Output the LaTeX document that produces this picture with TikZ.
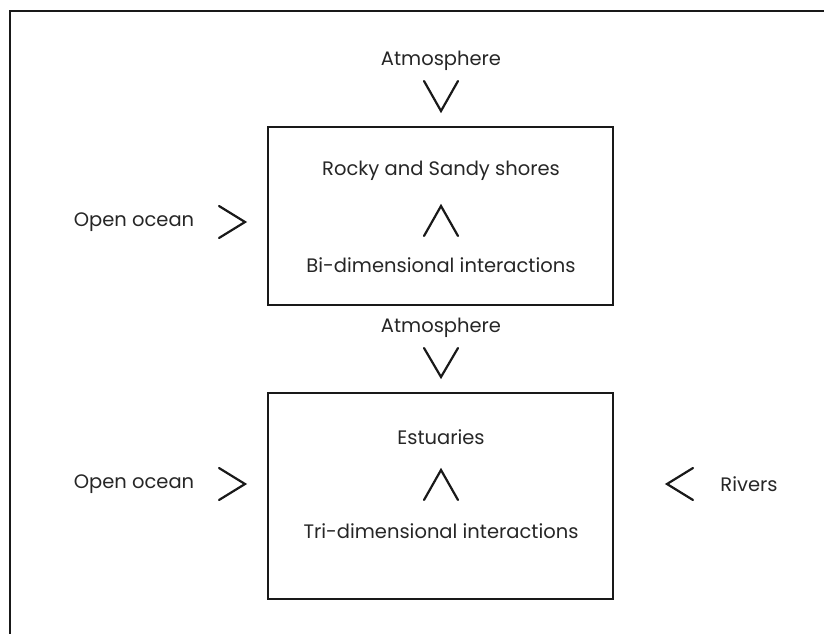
\documentclass[tikz,border=0pt]{standalone}
\usepackage{fontspec}
\setmainfont{Poppins}
\begin{document}
\begin{tikzpicture}[x=1pt,y=-1pt,
  lbl/.style={font=\fontsize{19.5}{22}\selectfont, text=black!85, inner sep=0pt},
  boxline/.style={draw=black!90, line width=2.8pt},
  chev/.style={draw=black!90, line width=2.2pt, line cap=round, line join=miter}]
\useasboundingbox (0,0) rectangle (824,634);
% outer frame
\draw[black!90, line width=2.6pt] (10,640) -- (10,11) -- (830,11);
% boxes
\node[boxline, minimum width=345, minimum height=178, inner sep=0pt] (box1) at (440.5,216) {};
\node[boxline, minimum width=345, minimum height=206, inner sep=0pt] (box2) at (440.5,496) {};
% texts
\node[lbl] (atm1) at (441,61) {Atmosphere};
\node[lbl] (rocky) at (441,171) {Rocky and Sandy shores};
\node[lbl] (bi) at (441,265) {Bi-dimensional interactions};
\node[lbl] (oo1) at (134,222) {Open ocean};
\node[lbl] (atm2) at (441,328) {Atmosphere};
\node[lbl] (est) at (441,437) {Estuaries};
\node[lbl] (tri) at (441,531) {Tri-dimensional interactions};
\node[lbl] (oo2) at (134,484) {Open ocean};
\node[lbl] (riv) at (749,484) {Rivers};
% chevrons
\draw[chev] (424,81) -- (441,111) -- (458,81);
\draw[chev] (424,236) -- (441,206) -- (458,236);
\draw[chev] (219,206) -- (245,222) -- (219,238);
\draw[chev] (424,348) -- (441,377) -- (458,348);
\draw[chev] (424,500) -- (441,470) -- (458,500);
\draw[chev] (219,468) -- (245,484) -- (219,500);
\draw[chev] (693,468) -- (667,484) -- (693,500);
\end{tikzpicture}
\end{document}
